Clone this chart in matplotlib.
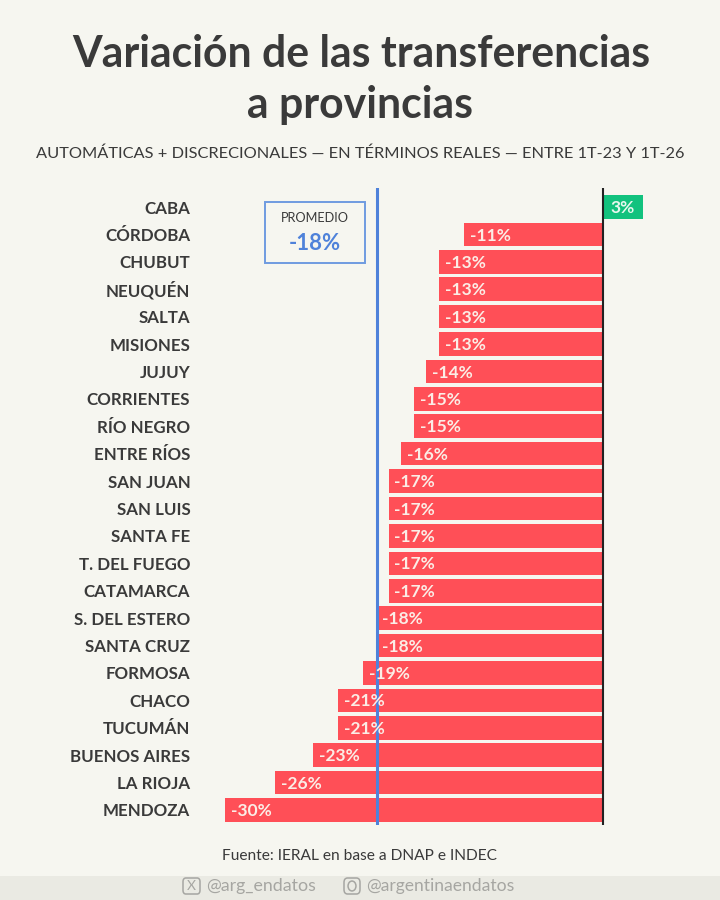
import matplotlib
matplotlib.use("Agg")
import matplotlib.pyplot as plt
from matplotlib.patches import Rectangle, FancyBboxPatch

provinces = ["CABA", "CÓRDOBA", "CHUBUT", "NEUQUÉN", "SALTA", "MISIONES", "JUJUY", "CORRIENTES",
             "RÍO NEGRO", "ENTRE RÍOS", "SAN JUAN", "SAN LUIS", "SANTA FE", "T. DEL FUEGO",
             "CATAMARCA", "S. DEL ESTERO", "SANTA CRUZ", "FORMOSA", "CHACO", "TUCUMÁN",
             "BUENOS AIRES", "LA RIOJA", "MENDOZA"]
values = [3.2, -11, -13, -13, -13, -13, -14, -15, -15, -16, -17, -17, -17, -17, -17,
          -18, -18, -19, -21, -21, -23, -26, -30]
labels = ["3%", "-11%", "-13%", "-13%", "-13%", "-13%", "-14%", "-15%", "-15%", "-16%", "-17%",
          "-17%", "-17%", "-17%", "-17%", "-18%", "-18%", "-19%", "-21%", "-21%", "-23%",
          "-26%", "-30%"]
average = -17.9
average_label = "-18%"

plt.rcParams["font.family"] = ["Lato", "DejaVu Sans"]

BG = "#F6F6F0"; DARK = "#3A3A3A"; RED = "#FF4F57"; GREEN = "#12C27E"; BLUE = "#4F82DA"
fig = plt.figure(figsize=(7.2, 9), dpi=100, facecolor=BG)
W, H = 720, 900
def px(x, y):
    return x / W, 1 - y / H

def fit(text_artist, width_px):
    """Scale a text's size so that it spans the given width in pixels."""
    r = fig.canvas.get_renderer()
    w = text_artist.get_window_extent(r).width
    text_artist.set_fontsize(text_artist.get_fontsize() * width_px / w)
    return text_artist.get_fontsize()

x0, x1 = 225, 643
top, bot = 188, 825
ax = fig.add_axes([x0 / W, 1 - bot / H, (x1 - x0) / W, (bot - top) / H])
ax.set_facecolor("none")
ax.set_xlim(-30, 3.2)
step = (810 - 207) / 22
ax.set_ylim((bot - 207) / step, -(207 - top) / step)

ypos = list(range(len(provinces)))
colors = [GREEN if v > 0 else RED for v in values]
ax.barh(ypos, values, height=0.86, color=colors, linewidth=0, zorder=2)
ax.axvline(0, color="#222222", lw=1.5, zorder=3)
ax.axvline(average, color=BLUE, lw=2.2, zorder=4)

for y, v, label in zip(ypos, values, labels):
    if v > 0:
        ax.text(v / 2, y + 0.04, label, color="#E8F8EF", fontsize=12.5, fontweight="bold",
                ha="center", va="center", zorder=5)
    else:
        ax.text(v + 0.45, y + 0.04, label, color="#FBEDE6", fontsize=12.5, fontweight="bold",
                ha="left", va="center", zorder=5)

ax.set_yticks(ypos, provinces)
ax.tick_params(axis="y", length=0, pad=25, labelsize=12.2, labelcolor=DARK)
for t in ax.get_yticklabels():
    t.set_fontweight("bold")
ax.xaxis.set_visible(False)
for s in ax.spines.values():
    s.set_visible(False)

t1 = fig.text(*px(361, 54), "Variación de las transferencias", fontsize=36, fontweight="bold",
              color=DARK, ha="center", va="center")
size = fit(t1, 578)
fig.text(*px(360, 105), "a provincias", fontsize=size, fontweight="bold",
         color=DARK, ha="center", va="center")
t3 = fig.text(*px(360, 154), "AUTOMÁTICAS + DISCRECIONALES — EN TÉRMINOS REALES — ENTRE 1T-23 Y 1T-26",
              fontsize=15, color=DARK, ha="center", va="center")
fit(t3, 648)

fig.add_artist(Rectangle(px(265, 263), 100 / W, 61 / H, transform=fig.transFigure,
                         fc="none", ec="#6F9BE0", lw=1.4))
t4 = fig.text(*px(315, 218), "PROMEDIO", fontsize=13, color=DARK, ha="center", va="center")
fit(t4, 68)
t5 = fig.text(*px(315, 243), average_label, fontsize=19, fontweight="bold", color=BLUE,
              ha="center", va="center")
fit(t5, 52)

fig.add_artist(Rectangle((0, 0), 1, 24 / H, transform=fig.transFigure, fc="#EAEAE3", ec="none"))
t6 = fig.text(*px(360, 856), "Fuente: IERAL en base a DNAP e INDEC", fontsize=14, color=DARK,
              ha="center", va="center")
fit(t6, 276)
FOOT = "#A6A6A2"
t7 = fig.text(*px(206, 886), "@arg_endatos", fontsize=14, color=FOOT, ha="left", va="center")
fit(t7, 110)
t8 = fig.text(*px(366, 886), "@argentinaendatos", fontsize=14, color=FOOT, ha="left", va="center")
fit(t8, 149)
fig.add_artist(FancyBboxPatch(px(183, 894), 17 / W, 16 / H, boxstyle="round,pad=0,rounding_size=0.004",
                              transform=fig.transFigure, fc="none", ec=FOOT, lw=1.1))
fig.text(*px(191.5, 886), "X", fontsize=10, color=FOOT, ha="center", va="center")
fig.add_artist(FancyBboxPatch(px(344, 894), 16 / W, 16 / H, boxstyle="round,pad=0,rounding_size=0.005",
                              transform=fig.transFigure, fc="none", ec=FOOT, lw=1.1))
fig.add_artist(plt.Circle(px(352, 886), 0.0055, transform=fig.transFigure, fc="none", ec=FOOT, lw=1.1))

fig.savefig("out.png", dpi=100, facecolor=BG)
